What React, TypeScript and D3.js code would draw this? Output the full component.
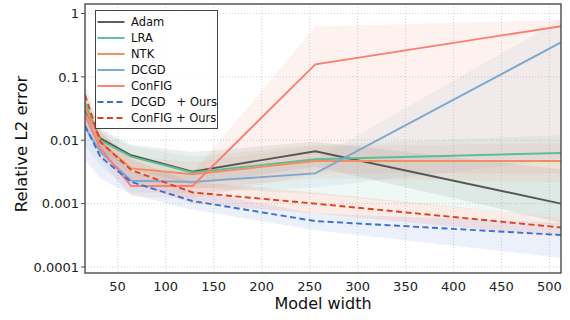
import React, { useEffect, useRef } from 'react'
import * as d3 from 'd3'

// model widths on the x axis
const widths = [16, 32, 64, 128, 256, 512]

// mean relative L2 error + spread, per method
const adam = [0.030, 0.0107, 0.0058, 0.0032, 0.0067, 0.0010]
const adamLo = [0.018, 0.007, 0.0035, 0.002, 0.0038, 0.0005]
const adamHi = [0.045, 0.015, 0.0085, 0.0065, 0.0095, 0.0035]

const lra = [0.039, 0.010, 0.0055, 0.0031, 0.0050, 0.0063]
const lraLo = [0.022, 0.0065, 0.003, 0.0018, 0.0014, 0.0006]
const lraHi = [0.06, 0.014, 0.008, 0.0055, 0.0085, 0.012]

const ntk = [0.033, 0.0094, 0.0036, 0.0029, 0.0047, 0.0047]
const ntkLo = [0.02, 0.006, 0.0022, 0.0017, 0.0025, 0.0022]
const ntkHi = [0.05, 0.013, 0.0055, 0.0045, 0.008, 0.009]

const dcgd = [0.016, 0.0066, 0.0023, 0.0022, 0.0030, 0.35]
const dcgdLo = [0.008, 0.004, 0.0015, 0.0015, 0.0018, 0.005]
const dcgdHi = [0.025, 0.009, 0.0035, 0.0035, 0.005, 0.8]

const config = [0.025, 0.0075, 0.0019, 0.0019, 0.157, 0.63]
const configLo = [0.015, 0.005, 0.0013, 0.0012, 0.003, 0.003]
const configHi = [0.04, 0.011, 0.003, 0.003, 0.62, 0.79]

const dcgdOurs = [0.017, 0.0055, 0.0022, 0.0011, 0.00053, 0.00032]
const dcgdOursLo = [0.005, 0.0025, 0.0014, 0.0008, 0.00038, 0.00014]
const dcgdOursHi = [0.03, 0.009, 0.0032, 0.0016, 0.0007, 0.0005]

const configOurs = [0.052, 0.0094, 0.0034, 0.0015, 0.0010, 0.00042]
const configOursLo = [0.03, 0.006, 0.0022, 0.001, 0.0007, 0.0003]
const configOursHi = [0.08, 0.014, 0.005, 0.0022, 0.0015, 0.0006]

const xTicks = [50, 100, 150, 200, 250, 300, 350, 400, 450, 500]
const yTicks = [1, 0.1, 0.01, 0.001, 0.0001]
const yTickLabels = ['1', '0.1', '0.01', '0.001', '0.0001']

const series = [
  { name: 'Adam', mean: adam, lo: adamLo, hi: adamHi, color: '#555555', dash: null },
  { name: 'LRA', mean: lra, lo: lraLo, hi: lraHi, color: '#5dbe95', dash: null },
  { name: 'NTK', mean: ntk, lo: ntkLo, hi: ntkHi, color: '#f38c5e', dash: null },
  { name: 'DCGD', mean: dcgd, lo: dcgdLo, hi: dcgdHi, color: '#7aa8cf', dash: null },
  { name: 'ConFIG', mean: config, lo: configLo, hi: configHi, color: '#fa7f70', dash: null },
  { name: 'DCGD   + Ours', mean: dcgdOurs, lo: dcgdOursLo, hi: dcgdOursHi, color: '#3b6fd6', dash: '6,3.5' },
  { name: 'ConFIG + Ours', mean: configOurs, lo: configOursLo, hi: configOursHi, color: '#e0421e', dash: '6,3.5' },
]

const font = 'DejaVu Sans, sans-serif'

export default function App() {
  const ref = useRef<SVGSVGElement>(null)

  useEffect(() => {
    const svg = d3.select(ref.current)
    svg.selectAll('*').remove()

    const left = 85, right = 561, top = 4, bottom = 273

    const x = d3.scaleLinear().domain([16, 512]).range([left, right])
    const y = d3.scaleLog().domain([8.04e-5, 1.41]).range([bottom, top])

    svg.append('defs').append('clipPath').attr('id', 'plot-clip')
      .append('rect')
      .attr('x', left).attr('y', top)
      .attr('width', right - left).attr('height', bottom - top)

    // grid
    const grid = svg.append('g')
    grid.selectAll('line.gx').data(xTicks).enter().append('line')
      .attr('x1', d => x(d)).attr('x2', d => x(d))
      .attr('y1', top).attr('y2', bottom)
      .attr('stroke', '#c8c8c8').attr('stroke-width', 0.8)
      .attr('stroke-dasharray', '1,2')
    grid.selectAll('line.gy').data(yTicks).enter().append('line')
      .attr('y1', d => y(d)).attr('y2', d => y(d))
      .attr('x1', left).attr('x2', right)
      .attr('stroke', '#c8c8c8').attr('stroke-width', 0.8)
      .attr('stroke-dasharray', '1,2')

    const plot = svg.append('g').attr('clip-path', 'url(#plot-clip)')

    // shaded spread bands
    series.forEach(s => {
      const band = d3.area<number>()
        .x((d, i) => x(widths[i]))
        .y0((d, i) => y(s.lo[i]))
        .y1((d, i) => y(s.hi[i]))
      plot.append('path')
        .attr('d', band(s.mean))
        .attr('fill', s.color)
        .attr('opacity', 0.1)
    })

    const line = d3.line<number>()
      .x((d, i) => x(widths[i]))
      .y(d => y(d))

    series.forEach(s => {
      plot.append('path')
        .attr('d', line(s.mean))
        .attr('fill', 'none')
        .attr('stroke', s.color)
        .attr('stroke-width', 1.9)
        .attr('stroke-dasharray', s.dash)
    })

    // frame
    svg.append('rect')
      .attr('x', left).attr('y', top)
      .attr('width', right - left).attr('height', bottom - top)
      .attr('fill', 'none').attr('stroke', '#4a4a4a').attr('stroke-width', 1.4)

    // y ticks
    const yg = svg.append('g')
    yg.selectAll('line').data(yTicks).enter().append('line')
      .attr('x1', left - 4).attr('x2', left)
      .attr('y1', d => y(d)).attr('y2', d => y(d))
      .attr('stroke', '#4a4a4a').attr('stroke-width', 1)
    yg.selectAll('text').data(yTicks).enter().append('text')
      .attr('x', left - 6).attr('y', d => y(d))
      .attr('dy', '0.36em')
      .attr('text-anchor', 'end')
      .attr('font-family', font).attr('font-size', 13)
      .attr('fill', '#222')
      .text((d, i) => yTickLabels[i])

    // x ticks
    const xg = svg.append('g')
    xg.selectAll('text').data(xTicks).enter().append('text')
      .attr('x', d => x(d)).attr('y', 291)
      .attr('text-anchor', 'middle')
      .attr('font-family', font).attr('font-size', 13)
      .attr('fill', '#222')
      .text(d => d)

    svg.append('text')
      .attr('x', 323).attr('y', 309)
      .attr('text-anchor', 'middle')
      .attr('font-family', font).attr('font-size', 16)
      .attr('fill', '#111')
      .text('Model width')

    svg.append('text')
      .attr('transform', 'translate(27,144) rotate(-90)')
      .attr('text-anchor', 'middle')
      .attr('font-family', font).attr('font-size', 16.5)
      .attr('fill', '#111')
      .text('Relative L2 error')

    // legend
    const lg = svg.append('g')
    lg.append('rect')
      .attr('x', 95.5).attr('y', 10.5)
      .attr('width', 122).attr('height', 118)
      .attr('fill', 'white').attr('fill-opacity', 0.85)
      .attr('stroke', '#444').attr('stroke-width', 1)
    series.forEach((s, i) => {
      const ly = 22 + i * 16
      lg.append('line')
        .attr('x1', 97.5).attr('x2', 124.5)
        .attr('y1', ly).attr('y2', ly)
        .attr('stroke', s.color).attr('stroke-width', 1.9)
        .attr('stroke-dasharray', s.dash)
      lg.append('text')
        .attr('x', 131).attr('y', ly)
        .attr('dy', '0.36em')
        .attr('font-family', font).attr('font-size', 11.5)
        .attr('fill', '#111')
        .style('white-space', 'pre')
        .text(s.name)
    })
  }, [])

  return (
    <svg ref={ref} width={570} height={320}
      style={{ position: 'absolute', left: 0, top: 0, background: 'white' }} />
  )
}
